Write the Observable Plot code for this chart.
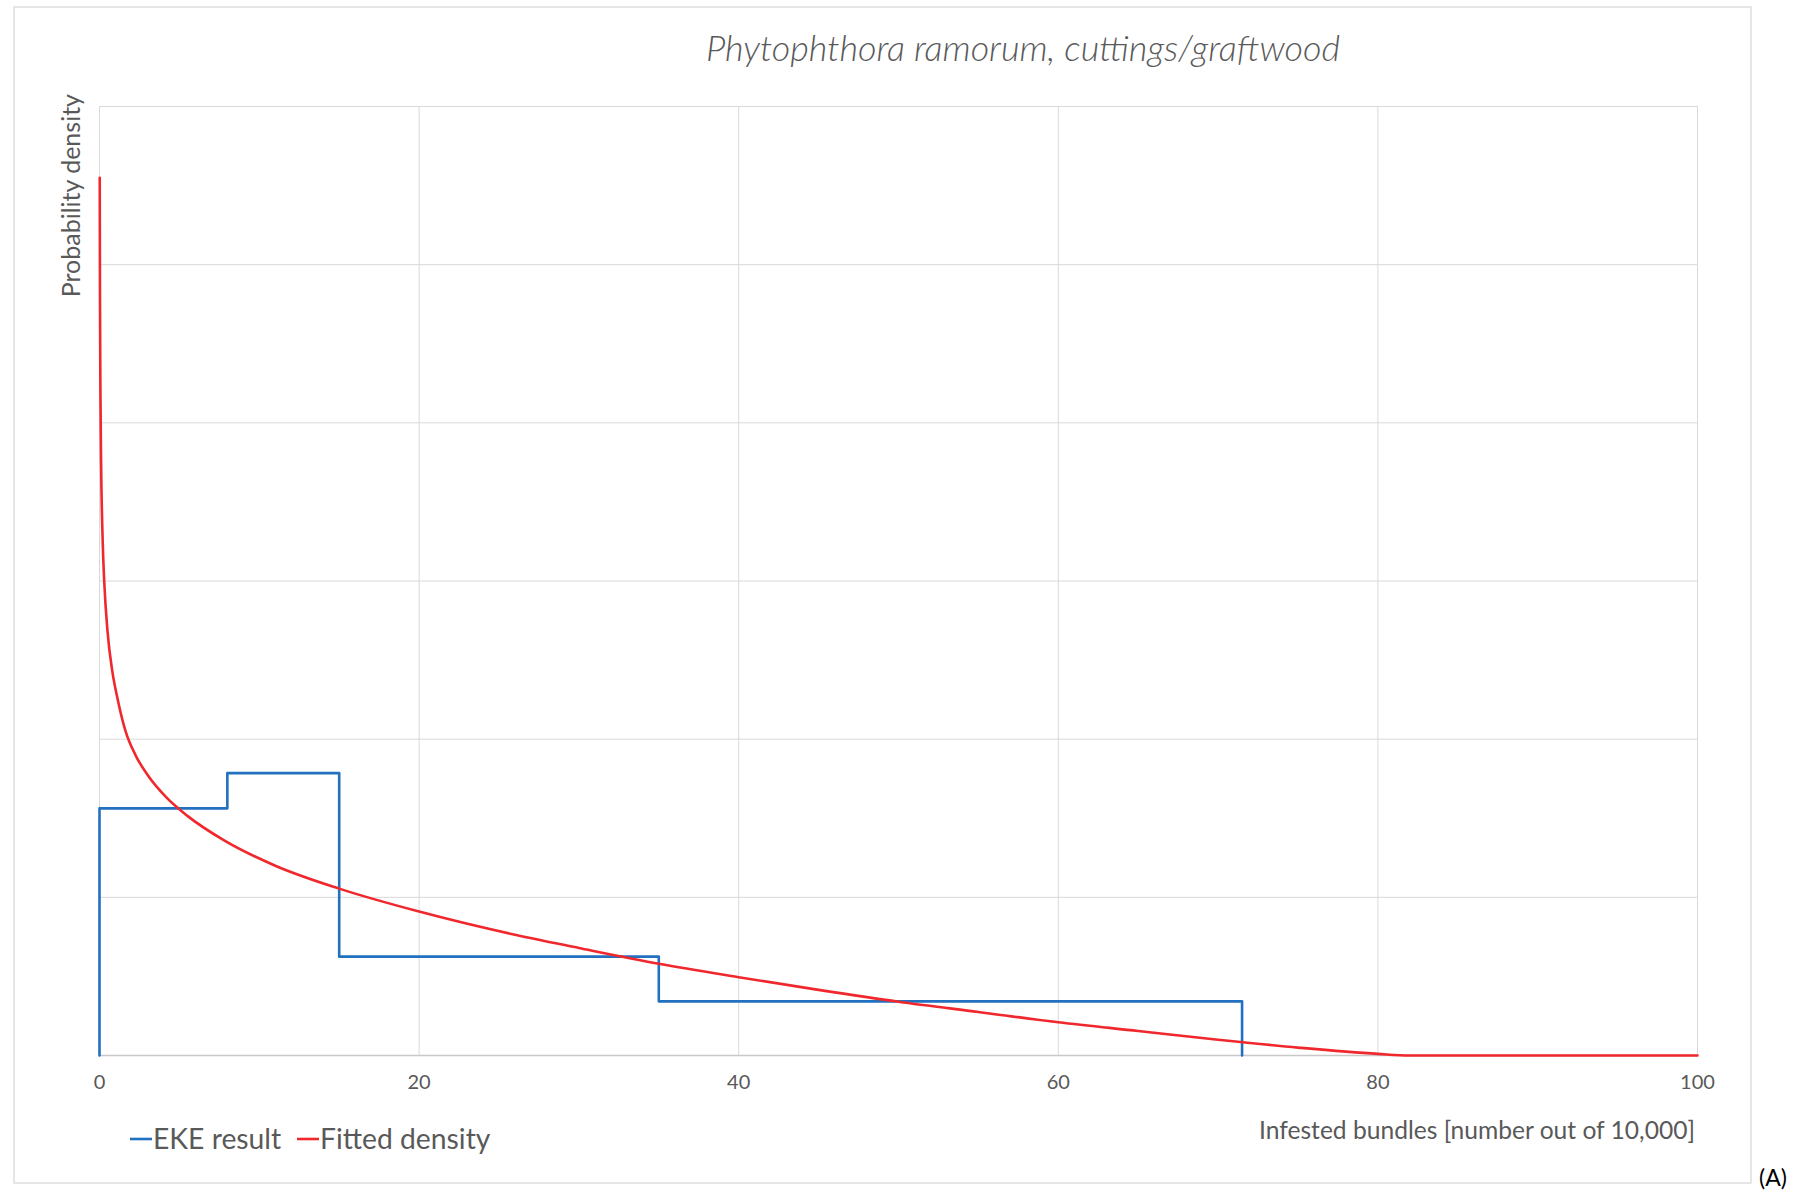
<!DOCTYPE html>
<html>
<head>
<meta charset="utf-8">
<script src="https://cdn.jsdelivr.net/npm/d3@7"></script>
<script src="https://cdn.jsdelivr.net/npm/@observablehq/plot@0.6"></script>
<style>
  html, body { margin: 0; padding: 0; background: #fff; }
  #chart svg { display: block; }
</style>
</head>
<body>
<div id="chart"></div>
<script>
// ---- Data ----
const titleText = "Phytophthora ramorum, cuttings/graftwood";
const yLabelText = "Probability density";
const xLabelText = "Infested bundles [number out of 10,000]";
const panelLabel = "(A)";
const seriesNames = ["EKE result", "Fitted density"];

const xTicks = [0, 20, 40, 60, 80, 100];
const yGridValues = [0, 0.02, 0.04, 0.06, 0.08, 0.10, 0.12];

// EKE result: histogram (bin edges and densities)
const binEdges = [0, 8, 15, 35, 71.5];
const binDensity = [0.03125, 0.0357, 0.0125, 0.00685];

// Fitted density: points
const fitX = [0.015, 0.03, 0.06, 0.1, 0.2, 0.3, 0.5, 0.8, 1.1, 1.6, 2.3, 3.0, 4.2, 5.5, 7.8, 11, 15, 20, 25.7, 30, 35, 40, 45, 50, 55, 60, 65, 70, 75, 80, 82, 100];
const fitY = [0.111, 0.096, 0.0834, 0.075, 0.065, 0.0598, 0.0537, 0.0486, 0.0454, 0.0412, 0.0378, 0.0355, 0.0326, 0.0303, 0.0272, 0.0240, 0.0211, 0.0182, 0.0154, 0.0136, 0.0116, 0.0099, 0.0083, 0.0068, 0.0055, 0.0042, 0.0031, 0.0020, 0.0010, 0.0002, 0, 0];

// ---- Build mark tables ----
const ekeData = [{x: binEdges[0], y: 0}];
for (let i = 0; i < binDensity.length; i++) {
  ekeData.push({x: binEdges[i], y: binDensity[i]});
  ekeData.push({x: binEdges[i + 1], y: binDensity[i]});
}
ekeData.push({x: binEdges[binEdges.length - 1], y: 0});
const fitData = fitX.map((x, i) => ({x, y: fitY[i]}));

const BLUE = "#2270c0";
const RED = "#f0282d";
const GRAY = "#595959";
const GRID = "#d9d9d9";
const FONT = "Lato, 'Open Sans', sans-serif";

const W = 1805, H = 1192;
const chart = Plot.plot({
  width: W,
  height: H,
  marginLeft: 99,
  marginRight: 108,
  marginTop: 106,
  marginBottom: 137,
  style: {fontFamily: FONT, background: "#fff", color: GRAY},
  x: {domain: [0, 100], axis: null},
  y: {domain: [0, 0.12], axis: null},
  marks: [
    Plot.gridX(xTicks, {stroke: GRID, strokeOpacity: 1, strokeWidth: 1}),
    Plot.gridY(yGridValues, {stroke: GRID, strokeOpacity: 1, strokeWidth: 1}),
    Plot.ruleY([0], {stroke: "#c8c8c8", strokeWidth: 1.3}),
    Plot.axisX(xTicks, {tickSize: 0, tickPadding: 19, fontSize: 20, fill: GRAY, label: null, tickFormat: d => String(d)}),
    Plot.line(ekeData, {x: "x", y: "y", stroke: BLUE, strokeWidth: 2.6, curve: "linear"}),
    Plot.line(fitData, {x: "x", y: "y", stroke: RED, strokeWidth: 2.6, curve: "monotone-x"})
  ]
});
document.getElementById("chart").appendChild(chart);

// ---- Annotations (title, labels, legend, frame) ----
const svg = d3.select(chart);
svg.insert("rect", ":first-child")
  .attr("x", 14).attr("y", 7).attr("width", 1737).attr("height", 1176)
  .attr("fill", "none").attr("stroke", GRID).attr("stroke-width", 1.3);

svg.append("text")
  .attr("x", 1023).attr("y", 61)
  .attr("text-anchor", "middle")
  .attr("font-family", FONT).attr("font-style", "italic").attr("font-weight", 300)
  .attr("font-size", 36).attr("fill", GRAY)
  .text(titleText);

svg.append("text")
  .attr("transform", "translate(80,94) rotate(-90)")
  .attr("text-anchor", "end")
  .attr("font-family", FONT).attr("font-size", 25).attr("fill", GRAY)
  .text(yLabelText);

svg.append("text")
  .attr("x", 1695).attr("y", 1139)
  .attr("text-anchor", "end")
  .attr("font-family", FONT).attr("font-size", 24.6).attr("fill", GRAY)
  .text(xLabelText);

svg.append("text")
  .attr("x", 1759).attr("y", 1186)
  .attr("text-anchor", "start")
  .attr("font-family", FONT).attr("font-size", 23).attr("fill", "#000")
  .text(panelLabel);

// legend
const legendItems = [
  {name: seriesNames[0], color: BLUE, x: 130},
  {name: seriesNames[1], color: RED, x: 297}
];
const ly = 1139;
legendItems.forEach(it => {
  svg.append("line")
    .attr("x1", it.x).attr("x2", it.x + 22).attr("y1", ly).attr("y2", ly)
    .attr("stroke", it.color).attr("stroke-width", 2.6);
  svg.append("text")
    .attr("x", it.x + 23).attr("y", ly + 10)
    .attr("text-anchor", "start")
    .attr("font-family", FONT).attr("font-size", 28.3).attr("fill", GRAY)
    .text(it.name);
});
</script>
</body>
</html>
